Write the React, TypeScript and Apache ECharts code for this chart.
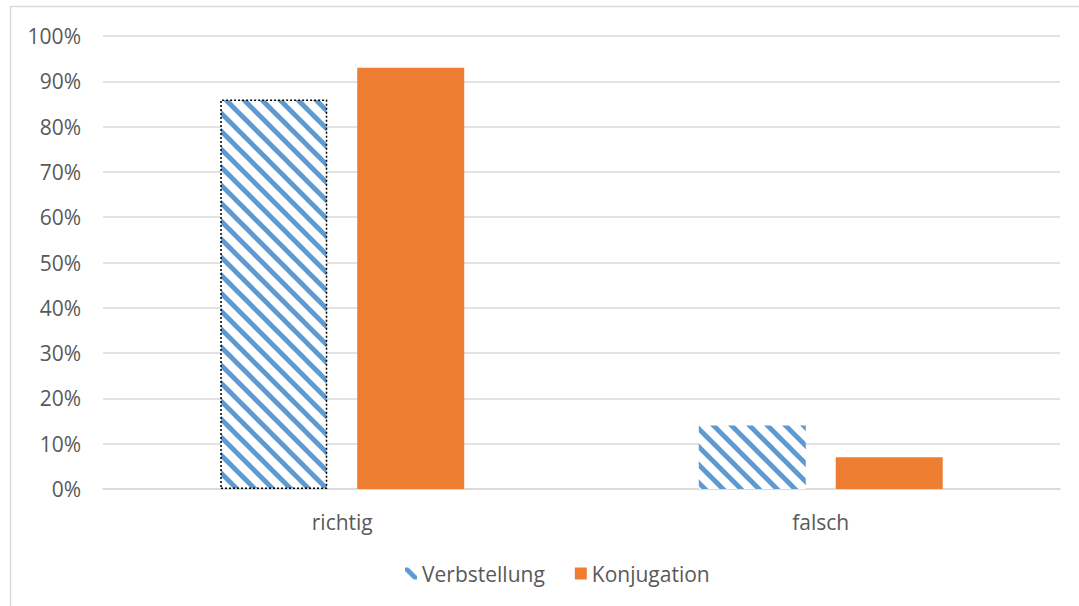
import React, { useEffect, useRef } from "react";
import * as echarts from "echarts";

const categories = ["richtig", "falsch"];
const verbstellung = [86, 14];
const konjugation = [93, 7];
const seriesNames = ["Verbstellung", "Konjugation"];

function makeStripeCanvas(): HTMLCanvasElement {
  const s = 18;
  const c = document.createElement("canvas");
  c.width = s;
  c.height = s;
  const ctx = c.getContext("2d")!;
  ctx.fillStyle = "#ffffff";
  ctx.fillRect(0, 0, s, s);
  ctx.strokeStyle = "#5b9bd5";
  ctx.lineWidth = 4.8;
  for (const off of [-s, 0, s]) {
    ctx.beginPath();
    ctx.moveTo(-2, off - 2);
    ctx.lineTo(s + 2, s + off + 2);
    ctx.stroke();
  }
  return c;
}

export default function App() {
  const ref = useRef<HTMLDivElement>(null);
  useEffect(() => {
    if (!ref.current) return;
    const chart = echarts.init(ref.current, undefined, { renderer: "svg" });
    const stripe = {
      image: makeStripeCanvas(),
      repeat: "repeat",
      imageWidth: 18,
      imageHeight: 18,
    } as any;
    const font = "'Open Sans', 'Liberation Sans', sans-serif";
    chart.setOption({
      animation: false,
      backgroundColor: "#ffffff",
      textStyle: { fontFamily: font },
      graphic: [
        {
          type: "rect",
          shape: { x: 10.5, y: 6.5, width: 1200, height: 800 },
          style: { fill: "none", stroke: "#d9d9d9", lineWidth: 1.5 },
          silent: true,
          z: -10,
        },
      ],
      grid: { left: 103, right: 19, top: 36, bottom: 117, containLabel: false },
      legend: {
        data: seriesNames,
        bottom: 17,
        left: 400,
        icon: "rect",
        itemWidth: 12,
        itemHeight: 12,
        itemGap: 30,
        textStyle: { color: "#595959", fontSize: 21, fontFamily: font },
      },
      xAxis: {
        type: "category",
        data: categories,
        axisLine: { lineStyle: { color: "#d9d9d9", width: 1.5 } },
        axisTick: { show: false },
        axisLabel: { color: "#595959", fontSize: 21, margin: 22, fontFamily: font },
      },
      yAxis: {
        type: "value",
        min: 0,
        max: 100,
        interval: 10,
        axisLine: { show: false },
        axisTick: { show: false },
        splitLine: { lineStyle: { color: "#d9d9d9", width: 1.5 } },
        axisLabel: {
          formatter: "{value}%",
          color: "#595959",
          fontSize: 21,
          margin: 22,
          fontFamily: font,
        },
      },
      series: [
        {
          name: seriesNames[0],
          type: "bar",
          barWidth: 107,
          barGap: "28%",
          itemStyle: { color: stripe },
          data: verbstellung.map((v, i) =>
            i === 0
              ? {
                  value: v,
                  itemStyle: {
                    color: stripe,
                    borderColor: "#000000",
                    borderWidth: 1.5,
                    borderType: [2, 2],
                  },
                }
              : v
          ),
        },
        {
          name: seriesNames[1],
          type: "bar",
          barWidth: 107,
          barGap: "28%",
          itemStyle: { color: "#ed7d31" },
          data: konjugation,
        },
      ],
    });
    return () => chart.dispose();
  }, []);
  return (
    <div
      ref={ref}
      style={{ position: "fixed", left: 0, top: 0, width: 1079, height: 606 }}
    />
  );
}
